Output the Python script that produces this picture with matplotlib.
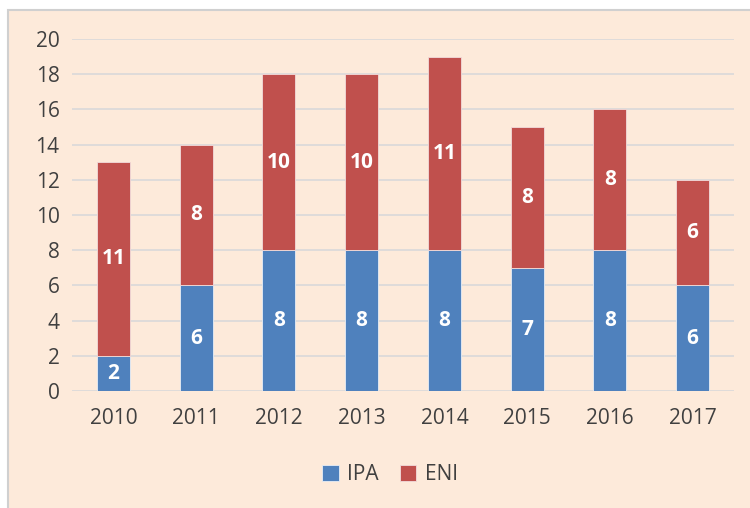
import matplotlib.pyplot as plt
from matplotlib.patches import Rectangle

years = ['2010', '2011', '2012', '2013', '2014', '2015', '2016', '2017']
ipa = [2, 6, 8, 8, 8, 7, 8, 6]
eni = [11, 8, 10, 10, 11, 8, 8, 6]

bg = '#FDEADA'
blue = '#4F81BD'
red = '#C0504D'

plt.rcParams['font.family'] = ['Open Sans', 'DejaVu Sans']

fig = plt.figure(figsize=(7.5, 5.08), dpi=100)
fig.patch.set_facecolor('white')
# panel with grey border (runs off the right and bottom edges)
fig.patches.append(Rectangle((8 / 750, -0.05), 1.0, 1.05 - 10 / 508,
                             transform=fig.transFigure, facecolor=bg,
                             edgecolor='#D0D0D0', linewidth=1.5, zorder=-1))

ax = fig.add_axes([72 / 750, 117 / 508, 662 / 750, 352 / 508])
ax.patch.set_alpha(0)

x = range(len(years))
b1 = ax.bar(x, ipa, width=0.4, color=blue, edgecolor='#E8EEF6', linewidth=0.6, label='IPA', zorder=3)
b2 = ax.bar(x, eni, width=0.4, bottom=ipa, color=red, edgecolor='#F2DCDB', linewidth=0.6, label='ENI', zorder=3)
ax.bar_label(b1, label_type='center', color='white', fontweight='bold', fontsize=15)
ax.bar_label(b2, label_type='center', color='white', fontweight='bold', fontsize=15)

ax.set_xlim(-0.5, len(years) - 0.5)
ax.set_ylim(0, 20)
ax.set_yticks(range(0, 21, 2))
ax.set_xticks(list(x))
ax.set_xticklabels(years)
ax.tick_params(length=0, labelsize=15, colors='#404040')
ax.tick_params(axis='x', pad=12)
ax.tick_params(axis='y', pad=9)
ax.grid(axis='y', color='#D9D9D9', linewidth=1.2, zorder=0)
for s in ax.spines.values():
    s.set_visible(False)

fig.legend(handles=[b1, b2], labels=['IPA', 'ENI'], loc='center', bbox_to_anchor=(390 / 750, 1 - 475 / 508),
           ncol=2, frameon=False, fontsize=15, handlelength=0.8, handleheight=0.8,
           handletextpad=0.4, columnspacing=1.0, labelcolor='#404040')

plt.savefig('out.png', dpi=100, facecolor=fig.get_facecolor())
